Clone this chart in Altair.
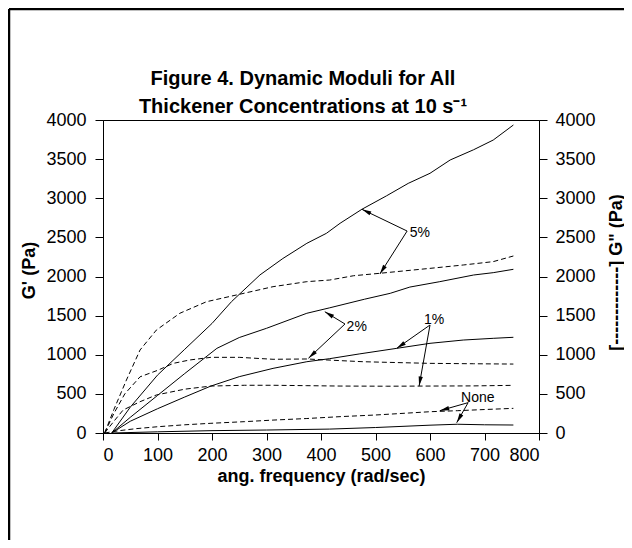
import math
import altair as alt
import pandas as pd

# ---------------- data ----------------
# G' (solid lines)
gp5_x = [16, 50, 100, 150, 200, 236, 288, 330, 374, 410, 435, 475, 520, 560, 600, 637, 680, 716, 753]
gp5_y = [0, 330, 740, 1070, 1400, 1680, 2020, 2230, 2424, 2552, 2680, 2859, 3030, 3190, 3319, 3489, 3620, 3744, 3936]
gp2_x = [16, 50, 100, 150, 209, 250, 300, 374, 416, 480, 527, 563, 618, 680, 716, 753]
gp2_y = [0, 200, 480, 760, 1082, 1220, 1338, 1530, 1600, 1710, 1785, 1865, 1934, 2019, 2049, 2092]
gp1_x = [16, 50, 100, 150, 198, 250, 312, 374, 416, 470, 539, 600, 661, 716, 753]
gp1_y = [0, 150, 310, 460, 600, 720, 826, 911, 950, 1010, 1082, 1146, 1188, 1210, 1223]
gp0_x = [16, 100, 200, 300, 416, 500, 600, 650, 700, 753]
gp0_y = [0, 15, 30, 38, 50, 70, 100, 112, 105, 102]

# G'' (dashed lines)
gpp5_x = [3, 20, 43, 68, 98, 141, 190, 245, 312, 374, 416, 460, 508, 550, 600, 661, 716, 753]
gpp5_y = [0, 300, 677, 1061, 1316, 1530, 1678, 1764, 1870, 1934, 1955, 2010, 2041, 2070, 2104, 2147, 2190, 2262]
gpp2_x = [3, 20, 40, 68, 101, 129, 159, 198, 250, 312, 374, 435, 477, 540, 600, 680, 753]
gpp2_y = [0, 250, 500, 718, 803, 890, 933, 967, 967, 942, 946, 925, 911, 900, 890, 885, 881]
gpp1_x = [3, 20, 37, 68, 98, 150, 198, 260, 312, 374, 435, 520, 600, 680, 753]
gpp1_y = [0, 150, 294, 400, 486, 560, 600, 610, 610, 605, 600, 598, 600, 602, 609]
gpp0_x = [3, 30, 60, 100, 150, 198, 260, 312, 374, 435, 500, 560, 600, 650, 700, 753]
gpp0_y = [0, 30, 55, 80, 105, 124, 145, 165, 185, 209, 230, 255, 272, 285, 300, 315]

# annotations
label_text = ["5%", "2%", "1%", "None"]
label_x = [563, 447, 589, 657]
label_y = [2556, 1358, 1444, 453]

arrow_from_x = [558, 558, 444, 444, 600, 600, 670, 670]
arrow_from_y = [2581, 2581, 1393, 1393, 1380, 1380, 388, 388]
arrow_to_x = [475, 508, 407, 377, 539, 580, 618, 649]
arrow_to_y = [2859, 2032, 1550, 955, 1082, 600, 285, 132]

title_lines = ["Figure 4. Dynamic Moduli for All", "Thickener Concentrations at 10 s\u207b\u00b9"]

# ---------------- layout ----------------
W, H = 436, 313
XMAX, YMAX = 800, 4000
PAD_L, PAD_T, PAD_R, PAD_B = 95, 112, 85, 107
FONT = "Liberation Sans"


def frame(series_list):
    rows = []
    for name, xs, ys in series_list:
        for a, b in zip(xs, ys):
            rows.append({"f": a, "v": b, "s": name})
    return pd.DataFrame(rows)


solid_df = frame([("5%", gp5_x, gp5_y), ("2%", gp2_x, gp2_y), ("1%", gp1_x, gp1_y), ("None", gp0_x, gp0_y)])
dash_df = frame([("5%", gpp5_x, gpp5_y), ("2%", gpp2_x, gpp2_y), ("1%", gpp1_x, gpp1_y), ("None", gpp0_x, gpp0_y)])

arrows = []
for fx, fy, tx, ty in zip(arrow_from_x, arrow_from_y, arrow_to_x, arrow_to_y):
    dx = (tx - fx) * W / XMAX
    dy = -(ty - fy) * H / YMAX
    ang = math.degrees(math.atan2(dx, -dy)) % 360
    arrows.append({"fx": fx, "fy": fy, "tx": tx, "ty": ty, "ang": ang})
arrow_df = pd.DataFrame(arrows)
label_df = pd.DataFrame({"t": label_text, "x": label_x, "y": label_y})

xscale = alt.Scale(domain=[0, XMAX], nice=False, padding=0, zero=True)
yscale = alt.Scale(domain=[0, YMAX], nice=False, padding=0, zero=True)
xaxis = alt.Axis(values=list(range(0, XMAX + 1, 100)), title="ang. frequency (rad/sec)",
                 tickSize=7, labelPadding=6, titlePadding=3, format="d")
yaxis_left = alt.Axis(orient="left", values=list(range(0, YMAX + 1, 500)), title="G' (Pa)",
                      titleX=-74, titleY=150, titleAngle=270, titleBaseline="middle",
                      tickSize=8, labelPadding=9, format="d")
yaxis_right = alt.Axis(orient="right", values=list(range(0, YMAX + 1, 500)),
                       title="[-------------] G\" (Pa)",
                       titleX=77, titleY=152, titleAngle=270, titleBaseline="middle",
                       tickSize=8, labelPadding=8, format="d")


def X(field):
    return alt.X(field, scale=xscale, axis=xaxis)


def YL(field):
    return alt.Y(field, scale=yscale, axis=yaxis_left)


solid = alt.Chart(solid_df).mark_line(color="black", strokeWidth=1).encode(
    x=X("f:Q"), y=YL("v:Q"), detail="s:N",
)

dashed = alt.Chart(dash_df).mark_line(color="black", strokeWidth=1, strokeDash=[5, 3]).encode(
    x=X("f:Q"), y=alt.Y("v:Q", scale=yscale, axis=yaxis_right), detail="s:N",
)

shafts = alt.Chart(arrow_df).mark_rule(color="black", strokeWidth=1).encode(
    x=X("fx:Q"), y=YL("fy:Q"), x2="tx:Q", y2="ty:Q",
)
heads = alt.Chart(arrow_df).mark_point(
    shape="M0,0 L0.45,2 L-0.45,2 Z", filled=True, color="black", opacity=1, size=90, strokeWidth=0
).encode(
    x=X("tx:Q"), y=YL("ty:Q"), angle=alt.Angle("ang:Q", scale=None),
)
labels = alt.Chart(label_df).mark_text(
    font=FONT, fontSize=14, color="black", align="left", baseline="middle"
).encode(
    x=X("x:Q"), y=YL("y:Q"), text="t:N",
)

title1 = alt.Chart(pd.DataFrame({"t": [title_lines[0]]})).mark_text(
    font=FONT, fontSize=20, fontWeight="bold", color="black", align="center", baseline="alphabetic"
).encode(x=alt.value(200), y=alt.value(-35), text="t:N")
title2 = alt.Chart(pd.DataFrame({"t": [title_lines[1]]})).mark_text(
    font=FONT, fontSize=20, fontWeight="bold", color="black", align="center", baseline="alphabetic"
).encode(x=alt.value(200), y=alt.value(-7), text="t:N")

border_top = alt.Chart(pd.DataFrame({"a": [0]})).mark_rule(color="black", strokeWidth=2.5).encode(
    x=alt.value(-PAD_L + 1), x2=alt.value(W + PAD_R), y=alt.value(-PAD_T + 1))
border_left = alt.Chart(pd.DataFrame({"a": [0]})).mark_rule(color="black", strokeWidth=2.5).encode(
    x=alt.value(-PAD_L + 1), y=alt.value(-PAD_T + 1), y2=alt.value(H + PAD_B))

left = alt.layer(solid, shafts, heads, labels, title1, title2, border_top, border_left)

chart = alt.layer(left, dashed).resolve_scale(y="independent").properties(
    width=W, height=H,
    autosize=alt.AutoSizeParams(type="none"),
    padding={"left": PAD_L, "top": PAD_T, "right": PAD_R, "bottom": PAD_B},
    background="white",
).configure_view(stroke="black", strokeWidth=1).configure_axis(
    grid=False, domainColor="black", tickColor="black", labelColor="black", titleColor="black",
    labelFont=FONT, titleFont=FONT, labelFontSize=18, titleFontSize=18, titleFontWeight="bold",
    domainWidth=1, tickWidth=1,
)

chart.save("out.html", embed_options={"renderer": "svg", "actions": False})
